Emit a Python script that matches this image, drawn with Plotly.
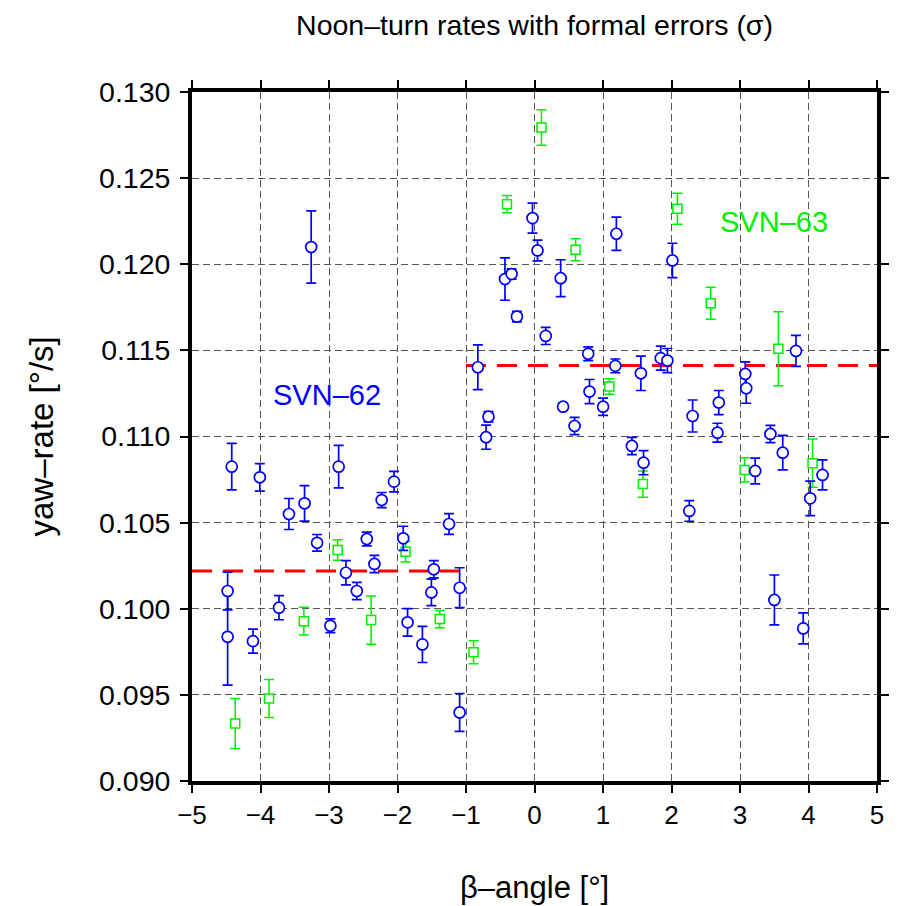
import plotly.graph_objects as go

# SVN-62 (blue circles): beta angle [deg], yaw rate [deg/s], formal error sigma
beta62 = [-4.48, -4.48, -4.42, -4.11, -4.01, -3.73, -3.585, -3.357, -3.26, -3.174,
          -2.98, -2.859, -2.753, -2.594, -2.448, -2.337, -2.231, -2.051, -1.916, -1.853,
          -1.636, -1.505, -1.470, -1.248, -1.093, -1.093, -0.827, -0.707, -0.672, -0.431,
          -0.334, -0.257, -0.029, 0.044, 0.164, 0.382, 0.417, 0.585, 0.784, 0.803,
          1.001, 1.180, 1.195, 1.422, 1.553, 1.592, 1.843, 1.940, 2.013, 2.260,
          2.308, 2.671, 2.690, 3.077, 3.091, 3.222, 3.444, 3.502, 3.624, 3.817,
          3.923, 4.025, 4.205]
rate62 = [0.10103, 0.09837, 0.10825, 0.09812, 0.10763, 0.10006, 0.10550, 0.10612, 0.12100, 0.10383,
          0.09901, 0.10825, 0.10209, 0.10103, 0.10405, 0.10260, 0.10631, 0.10738, 0.10409, 0.09921,
          0.09793, 0.10095, 0.10229, 0.10492, 0.10122, 0.09398, 0.11402, 0.10996, 0.11115, 0.11914,
          0.11943, 0.11696, 0.12268, 0.12080, 0.11584, 0.11919, 0.11173, 0.11061, 0.11480, 0.11261,
          0.11173, 0.11410, 0.12177, 0.10945, 0.11367, 0.10848, 0.11455, 0.11441, 0.12022, 0.10568,
          0.11119, 0.11022, 0.11197, 0.11363, 0.11280, 0.10800, 0.11015, 0.10051, 0.10906, 0.11497,
          0.09886, 0.10641, 0.10777]
sigma62 = [0.00110, 0.00280, 0.00135, 0.00070, 0.00080, 0.00070, 0.00090, 0.00103, 0.00210, 0.00048,
           0.00040, 0.00123, 0.00070, 0.00050, 0.00040, 0.00050, 0.00044, 0.00060, 0.00070, 0.00080,
           0.00105, 0.00077, 0.00050, 0.00060, 0.00116, 0.00110, 0.00130, 0.00070, 0.00030, 0.00123,
           0.00030, 0.00030, 0.00087, 0.00060, 0.00050, 0.00107, 0.00020, 0.00050, 0.00040, 0.00070,
           0.00050, 0.00040, 0.00097, 0.00050, 0.00100, 0.00070, 0.00070, 0.00070, 0.00100, 0.00060,
           0.00093, 0.00055, 0.00070, 0.00070, 0.00087, 0.00075, 0.00050, 0.00145, 0.00100, 0.00090,
           0.00090, 0.00100, 0.00087]

# SVN-63 (green squares)
beta63 = [-4.369, -3.875, -3.367, -2.874, -2.385, -1.882, -1.383, -0.890, -0.402,
          0.102, 0.600, 1.093, 1.582, 2.086, 2.573, 3.067, 3.560, 4.059]
rate63 = [0.09334, 0.09479, 0.09928, 0.10341, 0.09934, 0.10331, 0.09940, 0.09747, 0.12349,
          0.12794, 0.12084, 0.11290, 0.10724, 0.12322, 0.11774, 0.10806, 0.11509, 0.10845]
sigma63 = [0.00145, 0.00110, 0.00080, 0.00060, 0.00140, 0.00060, 0.00050, 0.00067, 0.00050,
           0.00103, 0.00064, 0.00045, 0.00076, 0.00090, 0.00093, 0.00070, 0.00215, 0.00140]

# Mean yaw-rate levels (red dashed)
mean_x_low = [-5, -1]
mean_y_low = [0.10219, 0.10219]
mean_x_high = [-1, 5]
mean_y_high = [0.11412, 0.11412]

xticks = [-5, -4, -3, -2, -1, 0, 1, 2, 3, 4, 5]
yticks = [0.090, 0.095, 0.100, 0.105, 0.110, 0.115, 0.120, 0.125, 0.130]

BLUE = "#0000ff"
GREEN = "#00ee00"
RED = "#ff0000"
FONT = "Liberation Sans, Arial, Helvetica, sans-serif"

fig = go.Figure()

for mx, my in ((mean_x_low, mean_y_low), (mean_x_high, mean_y_high)):
    fig.add_trace(go.Scatter(x=mx, y=my, mode="lines",
                             line=dict(color=RED, width=3, dash="20px,11px"),
                             hoverinfo="skip", showlegend=False))

fig.add_trace(go.Scatter(
    x=beta63, y=rate63, mode="markers",
    marker=dict(symbol="square", size=9, color="white", line=dict(color=GREEN, width=1.5)),
    error_y=dict(type="data", array=sigma63, color=GREEN, thickness=1.5, width=5),
    showlegend=False))

fig.add_trace(go.Scatter(
    x=beta62, y=rate62, mode="markers",
    marker=dict(symbol="circle", size=11, color="white", line=dict(color=BLUE, width=1.7)),
    error_y=dict(type="data", array=sigma62, color=BLUE, thickness=1.7, width=5),
    showlegend=False))

axis_common = dict(
    showgrid=True, gridcolor="#555555", gridwidth=1.4, griddash="7px,4px",
    zeroline=False, showline=True, linecolor="black", linewidth=3.8,
    mirror="ticks", ticks="outside", ticklen=8, tickwidth=1.5, tickcolor="black",
)

fig.update_xaxes(range=[-5, 5], tickvals=xticks, ticktext=[str(v).replace("-", "\u2212") for v in xticks],
                 tickfont=dict(family=FONT, size=26, color="black"), **axis_common)
fig.update_yaxes(range=[0.090, 0.130], tickvals=yticks, ticktext=[f"{v:.3f}" for v in yticks],
                 tickfont=dict(family=FONT, size=28.5, color="black"), ticklabelstandoff=4,
                 **axis_common)

fig.add_annotation(text="SVN\u201362", x=-3.03, y=0.11241, xref="x", yref="y",
                   showarrow=False, font=dict(family=FONT, size=29, color=BLUE))
fig.add_annotation(text="SVN\u201363", x=3.49, y=0.12247, xref="x", yref="y",
                   showarrow=False, font=dict(family=FONT, size=29, color=GREEN))

fig.add_annotation(text="yaw\u2013rate [\u00b0/s]", xref="paper", yref="paper", x=0, y=0.5,
                   xanchor="center", yanchor="middle",
                   xshift=-151, textangle=-90, showarrow=False,
                   font=dict(family=FONT, size=33, color="black"))
fig.add_annotation(text="\u03b2\u2013angle [\u00b0]", xref="paper", yref="paper", x=0.5, y=0,
                   xanchor="center", yanchor="middle",
                   yshift=-106, showarrow=False, font=dict(family=FONT, size=31, color="black"))

fig.update_layout(
    width=901, height=906,
    margin=dict(l=192, r=19, t=92, b=125),
    paper_bgcolor="white", plot_bgcolor="white",
    title=dict(text="Noon\u2013turn rates with formal errors (\u03c3)", x=0.5, xref="paper",
               y=1 - 25 / 906, yref="container", yanchor="middle", xanchor="center",
               font=dict(family=FONT, size=28.5, color="black")),
)

fig.write_html("out.html")
